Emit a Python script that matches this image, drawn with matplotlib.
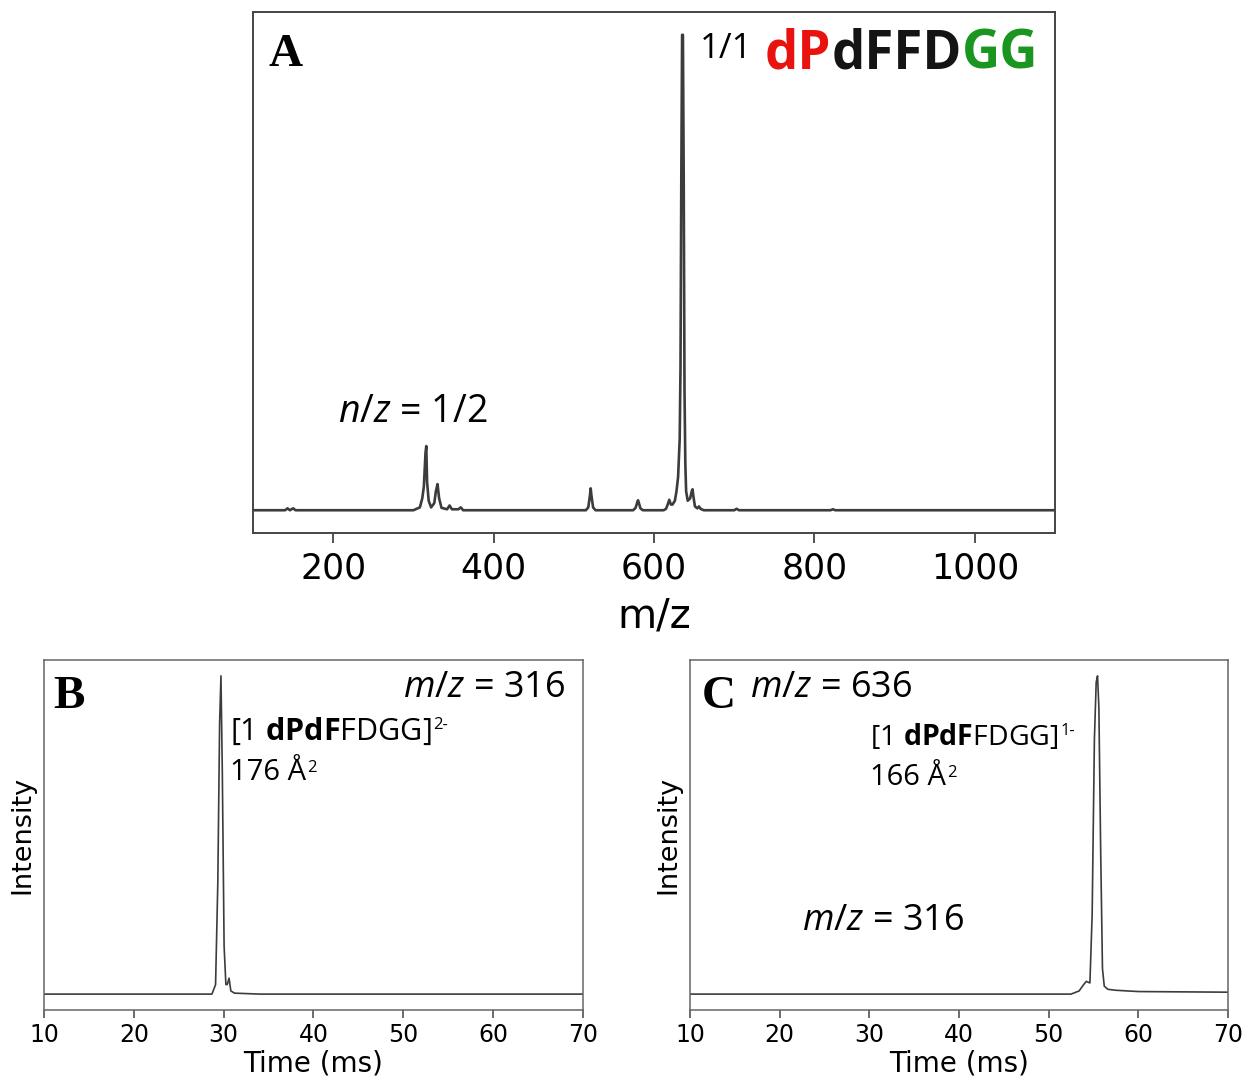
import numpy as np
import matplotlib
matplotlib.use("Agg")
import matplotlib.pyplot as plt

plt.rcParams['mathtext.fontset'] = 'custom'
plt.rcParams['mathtext.rm'] = 'Open Sans'
plt.rcParams['mathtext.it'] = 'Open Sans:italic'
plt.rcParams['mathtext.bf'] = 'Open Sans:bold'

# panel A: mass spectrum, traced vertices (m/z, relative intensity %)
ms_mz = [100, 140, 143, 146, 150, 153, 156, 300, 308, 311, 313, 315, 316, 317, 319, 322,
         326, 328, 330, 332, 335, 342, 345, 348, 356, 359, 362, 515, 518, 520, 521, 522,
         524, 527, 574, 577, 579, 580, 581, 583, 586, 612, 615, 617, 619, 621, 623, 626,
         628, 630, 631, 632, 633, 634, 635, 636, 637, 638, 639, 640, 642, 645, 647, 648,
         649, 651, 654, 656, 658, 662, 700, 703, 706, 820, 823, 826, 1100]
ms_int = [0, 0, 0.4, 0, 0.4, 0, 0, 0, 0.6, 2.5, 5, 12, 13.5, 6, 2, 0.6,
          1.5, 4, 5.5, 2.5, 0.5, 0.2, 1.0, 0.2, 0.2, 0.6, 0, 0, 0.6, 3, 4.6, 3,
          0.6, 0, 0, 0.5, 1.6, 2.1, 1.6, 0.4, 0, 0, 0.3, 1.2, 2.2, 1.2, 1.2, 2,
          4, 7, 11, 15, 30, 70, 100, 100, 70, 25, 10, 4, 2, 2.5, 4, 4.4,
          3, 0.8, 0.4, 0.8, 0.3, 0, 0, 0.3, 0, 0, 0.2, 0, 0]
ms_ticks = [200, 400, 600, 800, 1000]

# panel B: arrival time at m/z 316
tb_time = [10, 28.7, 29.1, 29.35, 29.55, 29.7, 29.85, 30.05, 30.25, 30.4, 30.6, 30.8, 31.2, 34, 70]
tb_int = [0, 0, 0.03, 0.35, 0.85, 1.0, 0.7, 0.15, 0.03, 0.03, 0.05, 0.01, 0.003, 0, 0]

# panel C: arrival time at m/z 636
tc_time = [10, 52.5, 53.4, 53.9, 54.2, 54.6, 54.85, 55.1, 55.3, 55.45, 55.6, 55.8, 56.0,
           56.2, 56.6, 57.5, 60, 65, 70]
tc_int = [0, 0, 0.01, 0.03, 0.04, 0.035, 0.25, 0.8, 0.98, 1.0, 0.9, 0.45, 0.08,
          0.025, 0.015, 0.012, 0.008, 0.007, 0.006]
t_ticks = [10, 20, 30, 40, 50, 60, 70]

line_col = '#3c3c3c'
frame_col = '#444444'
osans = ['Open Sans', 'DejaVu Sans']

fig = plt.figure(figsize=(12.49, 10.83), dpi=100)
axA = fig.add_axes([0.2026, 0.5078, 0.6421, 0.4811])
axB = fig.add_axes([0.0352, 0.0674, 0.4316, 0.3232])
axC = fig.add_axes([0.5524, 0.0674, 0.4308, 0.3232])

# ---- A ----
axA.plot(ms_mz, ms_int, color=line_col, lw=1.9)
axA.set_xlim(100, 1100)
axA.set_ylim(-4.8, 104.8)
axA.set_xticks(ms_ticks)
axA.set_yticks([])
axA.tick_params(axis='x', labelsize=25, length=7, width=1.3, color=frame_col, pad=6)
axA.set_xlabel('m/z', fontsize=29, labelpad=8)
for s in axA.spines.values():
    s.set_color(frame_col)
    s.set_linewidth(1.4)

axA.text(0.019, 0.957, 'A', transform=axA.transAxes, family='Liberation Serif',
         fontweight='bold', fontsize=34, va='top', ha='left')
axA.text(0.106, 0.213, '$n/z$ = 1/2', transform=axA.transAxes, family=osans,
         fontsize=27, va='baseline', ha='left')
axA.text(0.557, 0.912, '1/1', transform=axA.transAxes, family=osans,
         fontsize=25, va='baseline', ha='left')
# sequence label, coloured by residue group
t = axA.text(0.638, 0.8925, 'dP', transform=axA.transAxes, family=osans,
             fontweight='bold', fontsize=38, va='baseline', ha='left', color='#e8120f')
t = axA.annotate('dFFD', xy=(1, 0), xycoords=t, va='bottom', ha='left',
                 family=osans, fontweight='bold', fontsize=38, color='#141414')
t = axA.annotate('GG', xy=(1, 0), xycoords=t, va='bottom', ha='left',
                 family=osans, fontweight='bold', fontsize=38, color='#1a9620')

# ---- B and C ----
for ax, tt, yy in [(axB, tb_time, tb_int), (axC, tc_time, tc_int)]:
    ax.plot(tt, yy, color=line_col, lw=1.2)
    ax.set_xlim(10, 70)
    ax.set_ylim(-0.05, 1.05)
    ax.set_xticks(t_ticks)
    ax.set_yticks([])
    ax.tick_params(axis='x', labelsize=17, length=6, width=1.1, color=frame_col, pad=3)
    ax.set_xlabel('Time (ms)', fontsize=20, labelpad=2)
    ax.set_ylabel('Intensity', fontsize=19.5, labelpad=6)
    for s in ax.spines.values():
        s.set_color('#666666')
        s.set_linewidth(1.1)


def ion_label(ax, x, y, charge, ccs, size):
    t = ax.text(x, y, r'[1 $\mathbf{dPdF}$FDGG]', transform=ax.transAxes,
                family=osans, fontsize=size, va='baseline', ha='left')
    ax.annotate(charge, xy=(1, 1), xycoords=t, xytext=(1, -1), textcoords='offset points',
                va='top', ha='left', family=osans, fontsize=12)
    t2 = ax.text(x, y - 0.113, ccs + ' Å', transform=ax.transAxes,
                 family=osans, fontsize=21, va='baseline', ha='left')
    ax.annotate('2', xy=(1, 1), xycoords=t2, xytext=(1, -2), textcoords='offset points',
                va='top', ha='left', family=osans, fontsize=12)


axB.text(0.018, 0.955, 'B', transform=axB.transAxes, family='Liberation Serif',
         fontweight='bold', fontsize=34, va='top', ha='left')
axB.text(0.9666, 0.894, '$m/z$ = 316', transform=axB.transAxes, family=osans,
         fontsize=26, va='baseline', ha='right')
ion_label(axB, 0.345, 0.771, '2-', '176', 22)

axC.text(0.022, 0.955, 'C', transform=axC.transAxes, family='Liberation Serif',
         fontweight='bold', fontsize=34, va='top', ha='left')
axC.text(0.112, 0.894, '$m/z$ = 636', transform=axC.transAxes, family=osans,
         fontsize=26, va='baseline', ha='left')
ion_label(axC, 0.335, 0.757, '1-', '166', 20.5)
axC.text(0.208, 0.229, '$m/z$ = 316', transform=axC.transAxes, family=osans,
         fontsize=26, va='baseline', ha='left')

fig.savefig('out.png', dpi=100)
